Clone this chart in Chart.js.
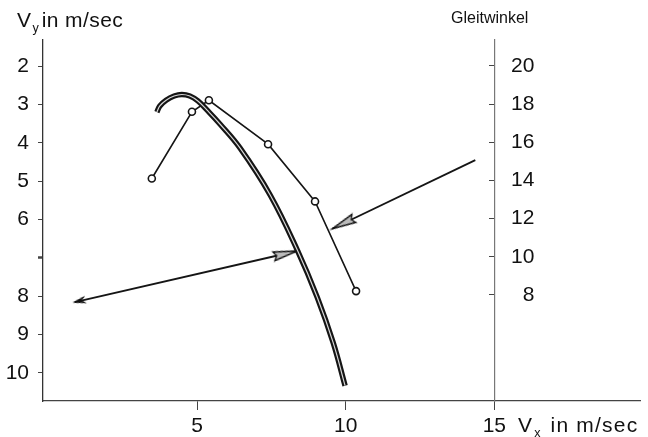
<!DOCTYPE html>
<html lang="de">
<head>
  <meta charset="UTF-8">
  <title>Gleitwinkel</title>
  <script src="https://cdn.jsdelivr.net/npm/chart.js@4/dist/chart.umd.min.js"></script>
  <style>
    body {
      margin: 0;
      background: #fff;
      font-family: "Liberation Sans", Arial, sans-serif;
    }
    .wrap {
      position: relative;
      width: 648px;
      height: 437px;
    }
    .lbl {
      position: absolute;
      color: #111;
      white-space: nowrap;
      line-height: 1;
    }
    .lbl sub {
      font-size: 60%;
      vertical-align: -0.4em;
      margin-left: 1px;
      margin-right: 3px;
      letter-spacing: 0;
    }
  </style>
</head>
<body>
  <div class="wrap">
    <canvas id="chart" width="648" height="437"></canvas>
    <div class="lbl" style="left:17px; top:9px; font-size:21px; letter-spacing:0.4px;">V<sub>y</sub>in m/sec</div>
    <div class="lbl" style="left:451px; top:10px; font-size:16px;">Gleitwinkel</div>
    <div class="lbl" style="left:518px; top:414px; font-size:21px; letter-spacing:1.2px;">V<sub>x</sub> in m/sec</div>
  </div>

  <script>
    // polar curve: Vx (m/s) against Vy (m/s)
    const polarVx = [3.65, 3.75, 3.96, 4.23, 4.49, 4.76, 5.03, 5.34, 5.77, 6.45, 7.46, 8.37, 9.04, 9.58, 9.98];
    const polarVy = [3.20, 3.04, 2.89, 2.78, 2.74, 2.78, 2.91, 3.15, 3.51, 4.14, 5.36, 6.79, 8.02, 9.21, 10.33];

    // glide angle points (right axis)
    const glideVx = [3.48, 4.83, 5.40, 7.39, 8.97, 10.35];
    const glideAngle = [14.1, 17.6, 18.2, 15.9, 12.9, 8.2];

    // arrows (start, end) in Vx / Vy
    const arrow1Vx = [0.89, 8.37];
    const arrow1Vy = [8.15, 6.82];
    const arrow2Vx = [14.36, 9.55];
    const arrow2Vy = [4.45, 6.24];

    // ticks
    const xTicks = [5, 10, 15];
    const vyTicks = [2, 3, 4, 5, 6, 7, 8, 9, 10];
    const vyLabels = ['2', '3', '4', '5', '6', '', '8', '9', '10'];
    const angleTicks = [8, 10, 12, 14, 16, 18, 20];

    const pts = (xs, ys) => xs.map((x, i) => ({ x, y: ys[i] }));

    // arrowhead bitmaps, tip sits in the centre of the canvas
    function makeHead(len, half, fill) {
      const c = document.createElement('canvas');
      c.width = len * 2 + 4;
      c.height = Math.ceil(half * 2 + 3);
      const g = c.getContext('2d');
      const cx = c.width / 2, cy = c.height / 2;
      g.beginPath();
      g.moveTo(cx, cy);
      g.lineTo(cx - len, cy - half);
      g.lineTo(cx - len + 3, cy);
      g.lineTo(cx - len, cy + half);
      g.closePath();
      g.fillStyle = fill;
      g.fill();
      g.lineWidth = 1.3;
      g.strokeStyle = '#111';
      g.stroke();
      return c;
    }
    const bigHead = makeHead(24, 4.5, '#bbb');
    const smallHead = makeHead(9, 2.5, '#111');

    // rotate each head along its arrow shaft
    function headAngle(ctx) {
      const d = ctx.dataset.data;
      const i = ctx.dataIndex;
      const sx = ctx.chart.scales.x;
      const sy = ctx.chart.scales[ctx.dataset.yAxisID || 'y'];
      const a = d[i], b = d[1 - i];
      const dx = sx.getPixelForValue(a.x) - sx.getPixelForValue(b.x);
      const dy = sy.getPixelForValue(a.y) - sy.getPixelForValue(b.y);
      return Math.atan2(dy, dx) * 180 / Math.PI;
    }

    const ink = '#151515';
    const tickFont = { family: '"Liberation Sans", Arial, sans-serif', size: 21 };
    const angleMin = 2.44, angleMax = 21.36;

    new Chart(document.getElementById('chart'), {
      type: 'line',
      data: {
        datasets: [
          // light core first so it is drawn on top of the black outline
          {
            data: pts(polarVx, polarVy),
            yAxisID: 'y',
            borderColor: '#d8d8d8',
            borderWidth: 1.2,
            borderCapStyle: 'butt',
            pointRadius: 0,
            tension: 0.4
          },
          {
            data: pts(polarVx, polarVy),
            yAxisID: 'y',
            borderColor: ink,
            borderWidth: 5.5,
            borderCapStyle: 'butt',
            pointRadius: 0,
            tension: 0.4
          },
          {
            data: pts(glideVx, glideAngle),
            yAxisID: 'y2',
            borderColor: ink,
            borderWidth: 1.6,
            tension: 0,
            pointRadius: 3.5,
            pointBorderWidth: 1.6,
            pointBorderColor: ink,
            pointBackgroundColor: '#fff'
          },
          {
            data: pts(arrow1Vx, arrow1Vy),
            yAxisID: 'y',
            borderColor: ink,
            borderWidth: 1.8,
            pointStyle: [smallHead, bigHead],
            pointRadius: 5,
            pointRotation: headAngle
          },
          {
            data: pts(arrow2Vx, arrow2Vy),
            yAxisID: 'y',
            borderColor: ink,
            borderWidth: 1.8,
            pointStyle: [bigHead, bigHead],
            pointRadius: [0, 5],
            pointRotation: headAngle
          }
        ]
      },
      options: {
        responsive: false,
        animation: false,
        layout: { padding: { top: 40, right: 8, left: 0, bottom: 0 } },
        plugins: { legend: { display: false }, tooltip: { enabled: false } },
        scales: {
          x: {
            type: 'linear',
            min: -0.18,
            max: 19.9,
            afterBuildTicks: s => { s.ticks = xTicks.map(v => ({ value: v })); },
            afterFit: s => { s.height = 36; },
            border: { color: '#444', width: 1.3 },
            grid: { drawOnChartArea: false, tickLength: 9, color: '#444' },
            ticks: { color: '#111', font: tickFont, padding: 4, maxRotation: 0 }
          },
          y: {
            type: 'linear',
            position: 'left',
            reverse: true,
            min: 1.32,
            max: 10.73,
            afterBuildTicks: s => { s.ticks = vyTicks.map(v => ({ value: v })); },
            afterFit: s => { s.width = 43; },
            border: { color: '#333', width: 1.3 },
            grid: {
              drawOnChartArea: false,
              tickLength: 5,
              color: '#444',
              tickWidth: c => (c.tick && c.tick.value === 7 ? 2.5 : 1)
            },
            ticks: {
              color: '#111',
              font: tickFont,
              padding: 9,
              callback: (v) => vyLabels[vyTicks.indexOf(v)]
            }
          },
          // Gleitwinkel axis line and tick marks, standing at Vx = 15
          y2: {
            type: 'linear',
            position: { x: 15 },
            min: angleMin,
            max: angleMax,
            afterBuildTicks: s => { s.ticks = angleTicks.map(v => ({ value: v })); },
            border: { color: '#777', width: 1.2 },
            grid: { drawOnChartArea: false, tickLength: 5, color: '#444' },
            ticks: { display: false }
          },
          // same scale, only carrying the labels to the right of the line
          y3: {
            type: 'linear',
            position: { x: 16.35 },
            min: angleMin,
            max: angleMax,
            afterBuildTicks: s => { s.ticks = angleTicks.map(v => ({ value: v })); },
            border: { display: false },
            grid: { display: false },
            ticks: { color: '#111', font: tickFont }
          }
        }
      }
    });
  </script>
</body>
</html>
